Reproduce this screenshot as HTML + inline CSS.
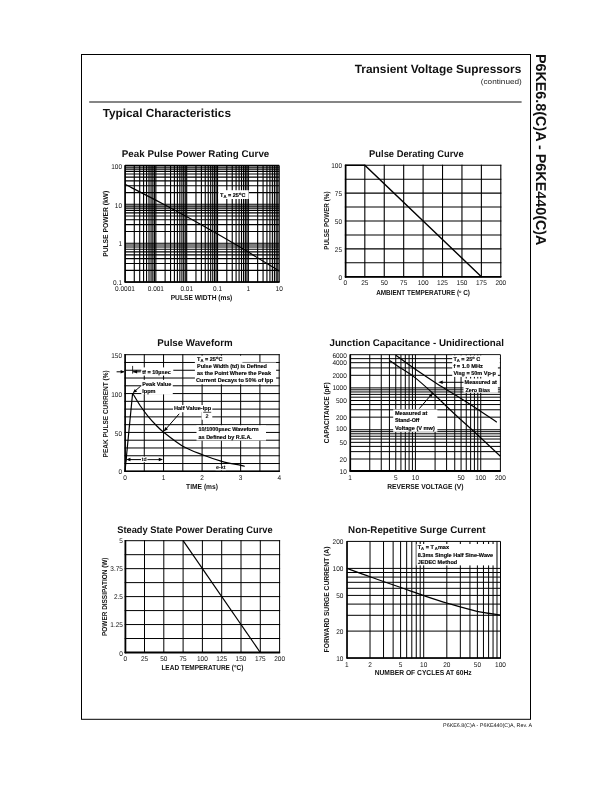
<!DOCTYPE html>
<html lang="en">
<head>
<meta charset="utf-8">
<title>P6KE6.8(C)A - P6KE440(C)A Typical Characteristics</title>
<style>
html,body{margin:0;padding:0;background:#fff;}
body{width:612px;height:792px;overflow:hidden;position:relative;font-family:'Liberation Sans', sans-serif;}
svg{position:absolute;left:0;top:0;display:block;font-family:'Liberation Sans', sans-serif;}
svg text{white-space:pre;}
</style>
</head>
<body>
<svg width="612" height="792" viewBox="0 0 612 792" shape-rendering="auto" text-rendering="geometricPrecision">
<g id="page-frame">
<rect x="81.5" y="54.5" width="449" height="664.8" fill="none" stroke="#000" stroke-width="1"/>
<text x="521.30" y="72.80" font-size="11.87" font-weight="bold" text-anchor="end" fill="#111" >Transient Voltage Supressors</text>
<text x="521.80" y="84.20" font-size="7.4" font-weight="normal" text-anchor="end" fill="#222" textLength="41.00" lengthAdjust="spacingAndGlyphs" >(continued)</text>
<line x1="89.20" y1="102.10" x2="521.60" y2="102.10" stroke="#5c5c5c" stroke-width="1.5" />
<text x="102.70" y="116.90" font-size="11.8" font-weight="bold" text-anchor="start" fill="#111" >Typical Characteristics</text>
<text transform="translate(536.4,53.9) rotate(90)" font-size="14.35" font-weight="bold" fill="#111">P6KE6.8(C)A - P6KE440(C)A</text>
<text x="532.00" y="727.20" font-size="5.38" font-weight="normal" text-anchor="end" fill="#111" >P6KE6.8(C)A - P6KE440(C)A, Rev. A</text>
</g>
<g id="peak-pulse-power-rating-curve">
<text x="121.80" y="157.10" font-size="9.78" font-weight="bold" text-anchor="start" fill="#111" textLength="147.50" lengthAdjust="spacingAndGlyphs" >Peak Pulse Power Rating Curve</text>
<line x1="125.00" y1="165.40" x2="125.00" y2="282.10" stroke="#000" stroke-width="1.12" />
<line x1="134.28" y1="165.40" x2="134.28" y2="282.10" stroke="#000" stroke-width="1.12" />
<line x1="139.71" y1="165.40" x2="139.71" y2="282.10" stroke="#000" stroke-width="1.12" />
<line x1="143.57" y1="165.40" x2="143.57" y2="282.10" stroke="#000" stroke-width="1.12" />
<line x1="146.56" y1="165.40" x2="146.56" y2="282.10" stroke="#000" stroke-width="1.12" />
<line x1="149.00" y1="165.40" x2="149.00" y2="282.10" stroke="#000" stroke-width="1.12" />
<line x1="151.06" y1="165.40" x2="151.06" y2="282.10" stroke="#000" stroke-width="1.12" />
<line x1="152.85" y1="165.40" x2="152.85" y2="282.10" stroke="#000" stroke-width="1.12" />
<line x1="154.43" y1="165.40" x2="154.43" y2="282.10" stroke="#000" stroke-width="1.12" />
<line x1="155.84" y1="165.40" x2="155.84" y2="282.10" stroke="#000" stroke-width="1.12" />
<line x1="165.12" y1="165.40" x2="165.12" y2="282.10" stroke="#000" stroke-width="1.12" />
<line x1="170.55" y1="165.40" x2="170.55" y2="282.10" stroke="#000" stroke-width="1.12" />
<line x1="174.41" y1="165.40" x2="174.41" y2="282.10" stroke="#000" stroke-width="1.12" />
<line x1="177.40" y1="165.40" x2="177.40" y2="282.10" stroke="#000" stroke-width="1.12" />
<line x1="179.84" y1="165.40" x2="179.84" y2="282.10" stroke="#000" stroke-width="1.12" />
<line x1="181.90" y1="165.40" x2="181.90" y2="282.10" stroke="#000" stroke-width="1.12" />
<line x1="183.69" y1="165.40" x2="183.69" y2="282.10" stroke="#000" stroke-width="1.12" />
<line x1="185.27" y1="165.40" x2="185.27" y2="282.10" stroke="#000" stroke-width="1.12" />
<line x1="186.68" y1="165.40" x2="186.68" y2="282.10" stroke="#000" stroke-width="1.12" />
<line x1="195.96" y1="165.40" x2="195.96" y2="282.10" stroke="#000" stroke-width="1.12" />
<line x1="201.39" y1="165.40" x2="201.39" y2="282.10" stroke="#000" stroke-width="1.12" />
<line x1="205.25" y1="165.40" x2="205.25" y2="282.10" stroke="#000" stroke-width="1.12" />
<line x1="208.24" y1="165.40" x2="208.24" y2="282.10" stroke="#000" stroke-width="1.12" />
<line x1="210.68" y1="165.40" x2="210.68" y2="282.10" stroke="#000" stroke-width="1.12" />
<line x1="212.74" y1="165.40" x2="212.74" y2="282.10" stroke="#000" stroke-width="1.12" />
<line x1="214.53" y1="165.40" x2="214.53" y2="282.10" stroke="#000" stroke-width="1.12" />
<line x1="216.11" y1="165.40" x2="216.11" y2="282.10" stroke="#000" stroke-width="1.12" />
<line x1="217.52" y1="165.40" x2="217.52" y2="282.10" stroke="#000" stroke-width="1.12" />
<line x1="226.80" y1="165.40" x2="226.80" y2="282.10" stroke="#000" stroke-width="1.12" />
<line x1="232.23" y1="165.40" x2="232.23" y2="282.10" stroke="#000" stroke-width="1.12" />
<line x1="236.09" y1="165.40" x2="236.09" y2="282.10" stroke="#000" stroke-width="1.12" />
<line x1="239.08" y1="165.40" x2="239.08" y2="282.10" stroke="#000" stroke-width="1.12" />
<line x1="241.52" y1="165.40" x2="241.52" y2="282.10" stroke="#000" stroke-width="1.12" />
<line x1="243.58" y1="165.40" x2="243.58" y2="282.10" stroke="#000" stroke-width="1.12" />
<line x1="245.37" y1="165.40" x2="245.37" y2="282.10" stroke="#000" stroke-width="1.12" />
<line x1="246.95" y1="165.40" x2="246.95" y2="282.10" stroke="#000" stroke-width="1.12" />
<line x1="248.36" y1="165.40" x2="248.36" y2="282.10" stroke="#000" stroke-width="1.12" />
<line x1="257.64" y1="165.40" x2="257.64" y2="282.10" stroke="#000" stroke-width="1.12" />
<line x1="263.07" y1="165.40" x2="263.07" y2="282.10" stroke="#000" stroke-width="1.12" />
<line x1="266.93" y1="165.40" x2="266.93" y2="282.10" stroke="#000" stroke-width="1.12" />
<line x1="269.92" y1="165.40" x2="269.92" y2="282.10" stroke="#000" stroke-width="1.12" />
<line x1="272.36" y1="165.40" x2="272.36" y2="282.10" stroke="#000" stroke-width="1.12" />
<line x1="274.42" y1="165.40" x2="274.42" y2="282.10" stroke="#000" stroke-width="1.12" />
<line x1="276.21" y1="165.40" x2="276.21" y2="282.10" stroke="#000" stroke-width="1.12" />
<line x1="277.79" y1="165.40" x2="277.79" y2="282.10" stroke="#000" stroke-width="1.12" />
<line x1="279.20" y1="165.40" x2="279.20" y2="282.10" stroke="#000" stroke-width="1.12" />
<line x1="125.00" y1="282.10" x2="279.20" y2="282.10" stroke="#000" stroke-width="1.12" />
<line x1="125.00" y1="270.39" x2="279.20" y2="270.39" stroke="#000" stroke-width="1.12" />
<line x1="125.00" y1="263.54" x2="279.20" y2="263.54" stroke="#000" stroke-width="1.12" />
<line x1="125.00" y1="258.68" x2="279.20" y2="258.68" stroke="#000" stroke-width="1.12" />
<line x1="125.00" y1="254.91" x2="279.20" y2="254.91" stroke="#000" stroke-width="1.12" />
<line x1="125.00" y1="251.83" x2="279.20" y2="251.83" stroke="#000" stroke-width="1.12" />
<line x1="125.00" y1="249.23" x2="279.20" y2="249.23" stroke="#000" stroke-width="1.12" />
<line x1="125.00" y1="246.97" x2="279.20" y2="246.97" stroke="#000" stroke-width="1.12" />
<line x1="125.00" y1="244.98" x2="279.20" y2="244.98" stroke="#000" stroke-width="1.12" />
<line x1="125.00" y1="243.20" x2="279.20" y2="243.20" stroke="#000" stroke-width="1.12" />
<line x1="125.00" y1="231.49" x2="279.20" y2="231.49" stroke="#000" stroke-width="1.12" />
<line x1="125.00" y1="224.64" x2="279.20" y2="224.64" stroke="#000" stroke-width="1.12" />
<line x1="125.00" y1="219.78" x2="279.20" y2="219.78" stroke="#000" stroke-width="1.12" />
<line x1="125.00" y1="216.01" x2="279.20" y2="216.01" stroke="#000" stroke-width="1.12" />
<line x1="125.00" y1="212.93" x2="279.20" y2="212.93" stroke="#000" stroke-width="1.12" />
<line x1="125.00" y1="210.33" x2="279.20" y2="210.33" stroke="#000" stroke-width="1.12" />
<line x1="125.00" y1="208.07" x2="279.20" y2="208.07" stroke="#000" stroke-width="1.12" />
<line x1="125.00" y1="206.08" x2="279.20" y2="206.08" stroke="#000" stroke-width="1.12" />
<line x1="125.00" y1="204.30" x2="279.20" y2="204.30" stroke="#000" stroke-width="1.12" />
<line x1="125.00" y1="192.59" x2="279.20" y2="192.59" stroke="#000" stroke-width="1.12" />
<line x1="125.00" y1="185.74" x2="279.20" y2="185.74" stroke="#000" stroke-width="1.12" />
<line x1="125.00" y1="180.88" x2="279.20" y2="180.88" stroke="#000" stroke-width="1.12" />
<line x1="125.00" y1="177.11" x2="279.20" y2="177.11" stroke="#000" stroke-width="1.12" />
<line x1="125.00" y1="174.03" x2="279.20" y2="174.03" stroke="#000" stroke-width="1.12" />
<line x1="125.00" y1="171.43" x2="279.20" y2="171.43" stroke="#000" stroke-width="1.12" />
<line x1="125.00" y1="169.17" x2="279.20" y2="169.17" stroke="#000" stroke-width="1.12" />
<line x1="125.00" y1="167.18" x2="279.20" y2="167.18" stroke="#000" stroke-width="1.12" />
<line x1="125.00" y1="165.40" x2="279.20" y2="165.40" stroke="#000" stroke-width="1.12" />
<line x1="125.20" y1="164.90" x2="125.20" y2="282.60" stroke="#000" stroke-width="1.4" />
<line x1="124.50" y1="282.00" x2="279.70" y2="282.00" stroke="#000" stroke-width="1.4" />
<rect x="218.40" y="190.20" width="30.30" height="8.80" fill="#fff" />
<text x="220.00" y="196.80" font-size="5.55" font-weight="bold" text-anchor="start" fill="#000" stroke="#000" stroke-width="0.14">T<tspan font-size="4.2" dy="1.2">A</tspan><tspan dy="-1.2"> = 25</tspan><tspan font-size="4" dy="-1.8">o</tspan><tspan dy="1.8">C</tspan></text>
<path d="M125.00,184.30 C131.35,187.58 150.60,197.38 163.10,204.00 C175.60,210.62 187.33,216.90 200.00,224.00 C212.67,231.10 225.88,238.75 239.10,246.60 C252.32,254.45 272.60,267.03 279.30,271.12" fill="none" stroke="#000" stroke-width="1.2"/>
<text transform="translate(122.00,285.35) scale(0.94,1)" font-size="6.9" text-anchor="end" fill="#111">0.1</text>
<text transform="translate(122.00,246.45) scale(0.94,1)" font-size="6.9" text-anchor="end" fill="#111">1</text>
<text transform="translate(122.00,207.55) scale(0.94,1)" font-size="6.9" text-anchor="end" fill="#111">10</text>
<text transform="translate(122.00,168.65) scale(0.94,1)" font-size="6.9" text-anchor="end" fill="#111">100</text>
<text transform="translate(125.00,290.95) scale(0.94,1)" font-size="6.9" text-anchor="middle" fill="#111">0.0001</text>
<text transform="translate(155.84,290.95) scale(0.94,1)" font-size="6.9" text-anchor="middle" fill="#111">0.001</text>
<text transform="translate(186.68,290.95) scale(0.94,1)" font-size="6.9" text-anchor="middle" fill="#111">0.01</text>
<text transform="translate(217.52,290.95) scale(0.94,1)" font-size="6.9" text-anchor="middle" fill="#111">0.1</text>
<text transform="translate(248.36,290.95) scale(0.94,1)" font-size="6.9" text-anchor="middle" fill="#111">1</text>
<text transform="translate(279.20,290.95) scale(0.94,1)" font-size="6.9" text-anchor="middle" fill="#111">10</text>
<text x="170.70" y="300.40" font-size="7.2" font-weight="bold" text-anchor="start" fill="#111" textLength="61.60" lengthAdjust="spacingAndGlyphs" >PULSE WIDTH (ms)</text>
<text transform="translate(107.70,256.80) rotate(-90)" font-size="7.2" font-weight="bold" fill="#111" textLength="66.00" lengthAdjust="spacingAndGlyphs">PULSE POWER (kW)</text>
</g>
<g id="pulse-derating-curve">
<text x="369.10" y="157.10" font-size="9.78" font-weight="bold" text-anchor="start" fill="#111" textLength="94.60" lengthAdjust="spacingAndGlyphs" >Pulse Derating Curve</text>
<line x1="345.40" y1="164.75" x2="345.40" y2="277.25" stroke="#000" stroke-width="1.1" />
<line x1="364.82" y1="164.75" x2="364.82" y2="277.25" stroke="#000" stroke-width="1.1" />
<line x1="384.25" y1="164.75" x2="384.25" y2="277.25" stroke="#000" stroke-width="1.1" />
<line x1="403.68" y1="164.75" x2="403.68" y2="277.25" stroke="#000" stroke-width="1.1" />
<line x1="423.10" y1="164.75" x2="423.10" y2="277.25" stroke="#000" stroke-width="1.1" />
<line x1="442.52" y1="164.75" x2="442.52" y2="277.25" stroke="#000" stroke-width="1.1" />
<line x1="461.95" y1="164.75" x2="461.95" y2="277.25" stroke="#000" stroke-width="1.1" />
<line x1="481.38" y1="164.75" x2="481.38" y2="277.25" stroke="#000" stroke-width="1.1" />
<line x1="500.80" y1="164.75" x2="500.80" y2="277.25" stroke="#000" stroke-width="1.1" />
<line x1="344.85" y1="165.30" x2="501.35" y2="165.30" stroke="#000" stroke-width="1.1" />
<line x1="344.85" y1="179.23" x2="501.35" y2="179.23" stroke="#000" stroke-width="1.1" />
<line x1="344.85" y1="193.15" x2="501.35" y2="193.15" stroke="#000" stroke-width="1.1" />
<line x1="344.85" y1="207.07" x2="501.35" y2="207.07" stroke="#000" stroke-width="1.1" />
<line x1="344.85" y1="221.00" x2="501.35" y2="221.00" stroke="#000" stroke-width="1.1" />
<line x1="344.85" y1="234.93" x2="501.35" y2="234.93" stroke="#000" stroke-width="1.1" />
<line x1="344.85" y1="248.85" x2="501.35" y2="248.85" stroke="#000" stroke-width="1.1" />
<line x1="344.85" y1="262.77" x2="501.35" y2="262.77" stroke="#000" stroke-width="1.1" />
<line x1="344.85" y1="276.70" x2="501.35" y2="276.70" stroke="#000" stroke-width="1.1" />
<line x1="345.70" y1="164.80" x2="345.70" y2="277.60" stroke="#000" stroke-width="1.6" />
<line x1="344.90" y1="276.80" x2="501.30" y2="276.80" stroke="#000" stroke-width="1.8" />
<polyline points="345.40,165.30 364.82,165.30 481.38,276.70" fill="none" stroke="#000" stroke-width="1.4"/>
<text transform="translate(342.00,279.75) scale(0.94,1)" font-size="6.9" text-anchor="end" fill="#111">0</text>
<text transform="translate(342.00,251.90) scale(0.94,1)" font-size="6.9" text-anchor="end" fill="#111">25</text>
<text transform="translate(342.00,224.05) scale(0.94,1)" font-size="6.9" text-anchor="end" fill="#111">50</text>
<text transform="translate(342.00,196.20) scale(0.94,1)" font-size="6.9" text-anchor="end" fill="#111">75</text>
<text transform="translate(342.00,168.35) scale(0.94,1)" font-size="6.9" text-anchor="end" fill="#111">100</text>
<text transform="translate(345.40,285.15) scale(0.94,1)" font-size="6.9" text-anchor="middle" fill="#111">0</text>
<text transform="translate(364.82,285.15) scale(0.94,1)" font-size="6.9" text-anchor="middle" fill="#111">25</text>
<text transform="translate(384.25,285.15) scale(0.94,1)" font-size="6.9" text-anchor="middle" fill="#111">50</text>
<text transform="translate(403.68,285.15) scale(0.94,1)" font-size="6.9" text-anchor="middle" fill="#111">75</text>
<text transform="translate(423.10,285.15) scale(0.94,1)" font-size="6.9" text-anchor="middle" fill="#111">100</text>
<text transform="translate(442.52,285.15) scale(0.94,1)" font-size="6.9" text-anchor="middle" fill="#111">125</text>
<text transform="translate(461.95,285.15) scale(0.94,1)" font-size="6.9" text-anchor="middle" fill="#111">150</text>
<text transform="translate(481.38,285.15) scale(0.94,1)" font-size="6.9" text-anchor="middle" fill="#111">175</text>
<text transform="translate(500.80,285.15) scale(0.94,1)" font-size="6.9" text-anchor="middle" fill="#111">200</text>
<text x="376.20" y="294.60" font-size="7.2" font-weight="bold" text-anchor="start" fill="#111" textLength="93.80" lengthAdjust="spacingAndGlyphs" >AMBIENT TEMPERATURE (<tspan font-size="4.4" dy="-2">o</tspan><tspan dy="2"> C)</tspan></text>
<text transform="translate(328.60,249.80) rotate(-90)" font-size="7.2" font-weight="bold" fill="#111" textLength="58.30" lengthAdjust="spacingAndGlyphs">PULSE POWER (%)</text>
</g>
<g id="pulse-waveform">
<text x="157.20" y="345.90" font-size="9.78" font-weight="bold" text-anchor="start" fill="#111" textLength="75.40" lengthAdjust="spacingAndGlyphs" >Pulse Waveform</text>
<line x1="125.00" y1="354.20" x2="125.00" y2="471.80" stroke="#000" stroke-width="1.0" />
<line x1="144.28" y1="354.20" x2="144.28" y2="471.80" stroke="#000" stroke-width="1.0" />
<line x1="163.55" y1="354.20" x2="163.55" y2="471.80" stroke="#000" stroke-width="1.0" />
<line x1="182.82" y1="354.20" x2="182.82" y2="471.80" stroke="#000" stroke-width="1.0" />
<line x1="202.10" y1="354.20" x2="202.10" y2="471.80" stroke="#000" stroke-width="1.0" />
<line x1="221.38" y1="354.20" x2="221.38" y2="471.80" stroke="#000" stroke-width="1.0" />
<line x1="240.65" y1="354.20" x2="240.65" y2="471.80" stroke="#000" stroke-width="1.0" />
<line x1="259.92" y1="354.20" x2="259.92" y2="471.80" stroke="#000" stroke-width="1.0" />
<line x1="279.20" y1="354.20" x2="279.20" y2="471.80" stroke="#000" stroke-width="1.0" />
<line x1="124.50" y1="354.70" x2="279.70" y2="354.70" stroke="#000" stroke-width="1.0" />
<line x1="124.50" y1="362.47" x2="279.70" y2="362.47" stroke="#000" stroke-width="1.0" />
<line x1="124.50" y1="370.25" x2="279.70" y2="370.25" stroke="#000" stroke-width="1.0" />
<line x1="124.50" y1="378.02" x2="279.70" y2="378.02" stroke="#000" stroke-width="1.0" />
<line x1="124.50" y1="385.79" x2="279.70" y2="385.79" stroke="#000" stroke-width="1.0" />
<line x1="124.50" y1="393.57" x2="279.70" y2="393.57" stroke="#000" stroke-width="1.0" />
<line x1="124.50" y1="401.34" x2="279.70" y2="401.34" stroke="#000" stroke-width="1.0" />
<line x1="124.50" y1="409.11" x2="279.70" y2="409.11" stroke="#000" stroke-width="1.0" />
<line x1="124.50" y1="416.89" x2="279.70" y2="416.89" stroke="#000" stroke-width="1.0" />
<line x1="124.50" y1="424.66" x2="279.70" y2="424.66" stroke="#000" stroke-width="1.0" />
<line x1="124.50" y1="432.43" x2="279.70" y2="432.43" stroke="#000" stroke-width="1.0" />
<line x1="124.50" y1="440.21" x2="279.70" y2="440.21" stroke="#000" stroke-width="1.0" />
<line x1="124.50" y1="447.98" x2="279.70" y2="447.98" stroke="#000" stroke-width="1.0" />
<line x1="124.50" y1="455.75" x2="279.70" y2="455.75" stroke="#000" stroke-width="1.0" />
<line x1="124.50" y1="463.53" x2="279.70" y2="463.53" stroke="#000" stroke-width="1.0" />
<line x1="124.50" y1="471.30" x2="279.70" y2="471.30" stroke="#000" stroke-width="1.0" />
<line x1="125.20" y1="354.20" x2="125.20" y2="471.80" stroke="#000" stroke-width="1.4" />
<line x1="124.50" y1="471.20" x2="279.70" y2="471.20" stroke="#000" stroke-width="1.4" />
<rect x="141.30" y="367.40" width="32.00" height="8.20" fill="#fff" />
<rect x="141.30" y="379.80" width="31.50" height="14.60" fill="#fff" />
<rect x="194.90" y="355.70" width="47.50" height="7.20" fill="#fff" />
<rect x="194.90" y="362.50" width="81.20" height="21.80" fill="#fff" />
<rect x="173.00" y="405.00" width="39.30" height="7.20" fill="#fff" />
<rect x="201.50" y="412.00" width="10.80" height="7.80" fill="#fff" />
<rect x="196.50" y="425.30" width="69.50" height="15.20" fill="#fff" />
<rect x="141.30" y="456.60" width="5.80" height="5.60" fill="#fff" />
<rect x="215.60" y="465.20" width="10.40" height="5.00" fill="#fff" />
<path d="M125.00,471.30 L132.6,393.2 " fill="none" stroke="#000" stroke-width="1.2" stroke-linejoin="miter"/>
<path d="M132.60,393.20 C133.90,395.33 137.82,402.15 140.40,406.00 C142.98,409.85 145.52,413.13 148.10,416.30 C150.68,419.47 153.32,422.35 155.90,425.00 C158.48,427.65 159.12,428.67 163.60,432.20 C168.08,435.73 176.33,442.45 182.80,446.20 C189.27,449.95 195.90,452.18 202.40,454.70 C208.90,457.22 215.38,459.52 221.80,461.30 C228.22,463.08 237.08,464.55 240.90,465.40 C244.72,466.25 244.07,466.23 244.70,466.40" fill="none" stroke="#000" stroke-width="1.2"/>
<line x1="116.60" y1="371.80" x2="123.80" y2="371.80" stroke="#000" stroke-width="1.0" />
<polygon points="124.60,371.80 120.60,373.56 120.60,370.05" fill="#000"/>
<line x1="132.60" y1="365.90" x2="132.60" y2="373.60" stroke="#000" stroke-width="0.8" />
<line x1="133.00" y1="371.80" x2="140.80" y2="371.80" stroke="#000" stroke-width="1.0" />
<polygon points="132.90,371.80 137.15,370.05 137.15,373.56" fill="#000"/>
<text x="142.20" y="373.80" font-size="5.55" font-weight="bold" text-anchor="start" fill="#000" stroke="#000" stroke-width="0.14">tf = 10µsec</text>
<text x="142.30" y="385.70" font-size="5.55" font-weight="bold" text-anchor="start" fill="#000" stroke="#000" stroke-width="0.14">Peak Value</text>
<text x="142.30" y="392.70" font-size="5.55" font-weight="bold" text-anchor="start" fill="#000" stroke="#000" stroke-width="0.14">Ippm</text>
<line x1="140.60" y1="386.20" x2="133.40" y2="392.40" stroke="#000" stroke-width="1.0" />
<polygon points="132.80,393.00 134.85,388.88 137.16,391.53" fill="#000"/>
<text x="197.00" y="360.70" font-size="5.55" font-weight="bold" text-anchor="start" fill="#000" stroke="#000" stroke-width="0.14">T<tspan font-size="4.2" dy="1.2">A</tspan><tspan dy="-1.2"> = 25</tspan><tspan font-size="4" dy="-1.8">o</tspan><tspan dy="1.8">C</tspan></text>
<text x="197.00" y="368.00" font-size="5.55" font-weight="bold" text-anchor="start" fill="#000" textLength="70.00" lengthAdjust="spacingAndGlyphs" stroke="#000" stroke-width="0.14">Pulse Width (td) is Defined</text>
<text x="197.00" y="374.60" font-size="5.55" font-weight="bold" text-anchor="start" fill="#000" textLength="74.00" lengthAdjust="spacingAndGlyphs" stroke="#000" stroke-width="0.14">as the Point Where the Peak</text>
<text x="196.10" y="382.30" font-size="5.55" font-weight="bold" text-anchor="start" fill="#000" textLength="77.00" lengthAdjust="spacingAndGlyphs" stroke="#000" stroke-width="0.14">Current Decays to 50% of Ipp</text>
<text x="173.90" y="410.40" font-size="5.55" font-weight="bold" text-anchor="start" fill="#000" textLength="37.20" lengthAdjust="spacingAndGlyphs" stroke="#000" stroke-width="0.14">Half Value-Ipp</text>
<line x1="203.20" y1="412.30" x2="211.20" y2="412.30" stroke="#000" stroke-width="0.7" />
<text x="207.10" y="418.40" font-size="5.55" font-weight="bold" text-anchor="middle" fill="#000" >2</text>
<line x1="179.20" y1="413.80" x2="164.40" y2="430.70" stroke="#000" stroke-width="1.0" />
<polygon points="163.70,431.50 165.34,426.96 167.98,429.27" fill="#000"/>
<text x="198.50" y="430.80" font-size="5.55" font-weight="bold" text-anchor="start" fill="#000" textLength="60.20" lengthAdjust="spacingAndGlyphs" stroke="#000" stroke-width="0.14">10/1000µsec Waveform</text>
<text x="198.50" y="438.90" font-size="5.55" font-weight="bold" text-anchor="start" fill="#000" textLength="53.40" lengthAdjust="spacingAndGlyphs" stroke="#000" stroke-width="0.14">as Defined by R.E.A.</text>
<line x1="126.10" y1="455.20" x2="126.10" y2="461.40" stroke="#000" stroke-width="0.8" />
<line x1="128.00" y1="459.60" x2="141.00" y2="459.60" stroke="#000" stroke-width="1.0" />
<line x1="147.40" y1="459.60" x2="160.00" y2="459.60" stroke="#000" stroke-width="0.9" />
<polygon points="126.20,459.60 130.45,457.85 130.45,461.36" fill="#000"/>
<polygon points="163.00,459.60 158.75,461.36 158.75,457.85" fill="#000"/>
<text x="144.20" y="461.30" font-size="5.2" font-weight="bold" text-anchor="middle" fill="#000" >td</text>
<text x="215.90" y="469.30" font-size="5.5" font-weight="bold" text-anchor="start" fill="#000" textLength="9.60" lengthAdjust="spacingAndGlyphs" >e-kt</text>
<text transform="translate(122.00,474.45) scale(0.94,1)" font-size="6.9" text-anchor="end" fill="#111">0</text>
<text transform="translate(122.00,435.58) scale(0.94,1)" font-size="6.9" text-anchor="end" fill="#111">50</text>
<text transform="translate(122.00,396.72) scale(0.94,1)" font-size="6.9" text-anchor="end" fill="#111">100</text>
<text transform="translate(122.00,357.85) scale(0.94,1)" font-size="6.9" text-anchor="end" fill="#111">150</text>
<text transform="translate(125.00,480.05) scale(0.94,1)" font-size="6.9" text-anchor="middle" fill="#111">0</text>
<text transform="translate(163.55,480.05) scale(0.94,1)" font-size="6.9" text-anchor="middle" fill="#111">1</text>
<text transform="translate(202.10,480.05) scale(0.94,1)" font-size="6.9" text-anchor="middle" fill="#111">2</text>
<text transform="translate(240.65,480.05) scale(0.94,1)" font-size="6.9" text-anchor="middle" fill="#111">3</text>
<text transform="translate(279.20,480.05) scale(0.94,1)" font-size="6.9" text-anchor="middle" fill="#111">4</text>
<text x="186.10" y="488.90" font-size="7.2" font-weight="bold" text-anchor="start" fill="#111" textLength="31.90" lengthAdjust="spacingAndGlyphs" >TIME (ms)</text>
<text transform="translate(107.70,457.40) rotate(-90)" font-size="7.2" font-weight="bold" fill="#111" textLength="87.00" lengthAdjust="spacingAndGlyphs">PEAK PULSE CURRENT (%)</text>
</g>
<g id="junction-capacitance">
<text x="329.50" y="346.20" font-size="9.78" font-weight="bold" text-anchor="start" fill="#111" textLength="174.40" lengthAdjust="spacingAndGlyphs" >Junction Capacitance - Unidirectional</text>
<line x1="350.10" y1="354.70" x2="350.10" y2="471.60" stroke="#000" stroke-width="1.0" />
<line x1="369.76" y1="354.70" x2="369.76" y2="471.60" stroke="#000" stroke-width="1.0" />
<line x1="381.26" y1="354.70" x2="381.26" y2="471.60" stroke="#000" stroke-width="1.0" />
<line x1="389.43" y1="354.70" x2="389.43" y2="471.60" stroke="#000" stroke-width="1.0" />
<line x1="395.76" y1="354.70" x2="395.76" y2="471.60" stroke="#000" stroke-width="1.0" />
<line x1="400.93" y1="354.70" x2="400.93" y2="471.60" stroke="#000" stroke-width="1.0" />
<line x1="405.30" y1="354.70" x2="405.30" y2="471.60" stroke="#000" stroke-width="1.0" />
<line x1="409.09" y1="354.70" x2="409.09" y2="471.60" stroke="#000" stroke-width="1.0" />
<line x1="412.43" y1="354.70" x2="412.43" y2="471.60" stroke="#000" stroke-width="1.0" />
<line x1="415.42" y1="354.70" x2="415.42" y2="471.60" stroke="#000" stroke-width="1.0" />
<line x1="435.08" y1="354.70" x2="435.08" y2="471.60" stroke="#000" stroke-width="1.0" />
<line x1="446.58" y1="354.70" x2="446.58" y2="471.60" stroke="#000" stroke-width="1.0" />
<line x1="454.74" y1="354.70" x2="454.74" y2="471.60" stroke="#000" stroke-width="1.0" />
<line x1="461.07" y1="354.70" x2="461.07" y2="471.60" stroke="#000" stroke-width="1.0" />
<line x1="466.25" y1="354.70" x2="466.25" y2="471.60" stroke="#000" stroke-width="1.0" />
<line x1="470.62" y1="354.70" x2="470.62" y2="471.60" stroke="#000" stroke-width="1.0" />
<line x1="474.41" y1="354.70" x2="474.41" y2="471.60" stroke="#000" stroke-width="1.0" />
<line x1="477.75" y1="354.70" x2="477.75" y2="471.60" stroke="#000" stroke-width="1.0" />
<line x1="480.74" y1="354.70" x2="480.74" y2="471.60" stroke="#000" stroke-width="1.0" />
<line x1="500.40" y1="354.70" x2="500.40" y2="471.60" stroke="#000" stroke-width="1.0" />
<line x1="350.10" y1="471.60" x2="500.40" y2="471.60" stroke="#000" stroke-width="1.0" />
<line x1="350.10" y1="459.00" x2="500.40" y2="459.00" stroke="#000" stroke-width="1.0" />
<line x1="350.10" y1="451.63" x2="500.40" y2="451.63" stroke="#000" stroke-width="1.0" />
<line x1="350.10" y1="446.40" x2="500.40" y2="446.40" stroke="#000" stroke-width="1.0" />
<line x1="350.10" y1="442.35" x2="500.40" y2="442.35" stroke="#000" stroke-width="1.0" />
<line x1="350.10" y1="439.03" x2="500.40" y2="439.03" stroke="#000" stroke-width="1.0" />
<line x1="350.10" y1="436.23" x2="500.40" y2="436.23" stroke="#000" stroke-width="1.0" />
<line x1="350.10" y1="433.81" x2="500.40" y2="433.81" stroke="#000" stroke-width="1.0" />
<line x1="350.10" y1="431.66" x2="500.40" y2="431.66" stroke="#000" stroke-width="1.0" />
<line x1="350.10" y1="429.75" x2="500.40" y2="429.75" stroke="#000" stroke-width="1.0" />
<line x1="350.10" y1="417.15" x2="500.40" y2="417.15" stroke="#000" stroke-width="1.0" />
<line x1="350.10" y1="409.78" x2="500.40" y2="409.78" stroke="#000" stroke-width="1.0" />
<line x1="350.10" y1="404.55" x2="500.40" y2="404.55" stroke="#000" stroke-width="1.0" />
<line x1="350.10" y1="400.50" x2="500.40" y2="400.50" stroke="#000" stroke-width="1.0" />
<line x1="350.10" y1="397.18" x2="500.40" y2="397.18" stroke="#000" stroke-width="1.0" />
<line x1="350.10" y1="394.38" x2="500.40" y2="394.38" stroke="#000" stroke-width="1.0" />
<line x1="350.10" y1="391.96" x2="500.40" y2="391.96" stroke="#000" stroke-width="1.0" />
<line x1="350.10" y1="389.81" x2="500.40" y2="389.81" stroke="#000" stroke-width="1.0" />
<line x1="350.10" y1="387.90" x2="500.40" y2="387.90" stroke="#000" stroke-width="1.0" />
<line x1="350.10" y1="375.30" x2="500.40" y2="375.30" stroke="#000" stroke-width="1.0" />
<line x1="350.10" y1="367.93" x2="500.40" y2="367.93" stroke="#000" stroke-width="1.0" />
<line x1="350.10" y1="362.70" x2="500.40" y2="362.70" stroke="#000" stroke-width="1.0" />
<line x1="350.10" y1="358.65" x2="500.40" y2="358.65" stroke="#000" stroke-width="1.0" />
<line x1="350.10" y1="354.70" x2="500.40" y2="354.70" stroke="#000" stroke-width="1.0" />
<rect x="349.10" y="470.85" width="152.30" height="2.00" fill="#fff" />
<line x1="350.35" y1="354.20" x2="350.35" y2="471.90" stroke="#000" stroke-width="1.5" />
<line x1="349.60" y1="471.05" x2="500.90" y2="471.05" stroke="#000" stroke-width="1.9" />
<rect x="452.20" y="355.40" width="47.60" height="10.20" fill="#fff" />
<rect x="452.20" y="365.00" width="45.70" height="11.90" fill="#fff" />
<rect x="463.50" y="378.50" width="34.40" height="14.20" fill="#fff" />
<rect x="393.20" y="409.50" width="44.20" height="22.30" fill="#fff" />
<path d="M395.90,355.30 C399.08,357.60 408.08,364.32 415.00,369.10 C421.92,373.88 429.07,378.68 437.40,384.00 C445.73,389.32 455.10,394.63 465.00,401.00 C474.90,407.37 491.50,418.67 496.80,422.20" fill="none" stroke="#000" stroke-width="1.2"/>
<path d="M389.60,360.60 C391.50,361.87 396.77,365.37 401.00,368.20 C405.23,371.03 409.65,373.38 415.00,377.60 C420.35,381.82 426.55,387.48 433.10,393.50 C439.65,399.52 446.87,406.78 454.30,413.70 C461.73,420.62 470.02,427.92 477.70,435.00 C485.38,442.08 496.62,452.67 500.40,456.20" fill="none" stroke="#000" stroke-width="1.2"/>
<text x="453.40" y="361.00" font-size="5.55" font-weight="bold" text-anchor="start" fill="#000" stroke="#000" stroke-width="0.14">T<tspan font-size="4.2" dy="1.2">A</tspan><tspan dy="-1.2"> = 25</tspan><tspan font-size="4" dy="-1.8">o</tspan><tspan dy="1.8"> C</tspan></text>
<text x="453.40" y="367.70" font-size="5.55" font-weight="bold" text-anchor="start" fill="#000" textLength="29.50" lengthAdjust="spacingAndGlyphs" stroke="#000" stroke-width="0.14">f = 1.0 MHz</text>
<text x="453.40" y="374.50" font-size="5.55" font-weight="bold" text-anchor="start" fill="#000" textLength="42.60" lengthAdjust="spacingAndGlyphs" stroke="#000" stroke-width="0.14">Visg = 50m Vp-p</text>
<text x="464.60" y="384.10" font-size="5.55" font-weight="bold" text-anchor="start" fill="#000" textLength="32.30" lengthAdjust="spacingAndGlyphs" stroke="#000" stroke-width="0.14">Measured at</text>
<text x="465.50" y="391.50" font-size="5.55" font-weight="bold" text-anchor="start" fill="#000" textLength="24.40" lengthAdjust="spacingAndGlyphs" stroke="#000" stroke-width="0.14">Zero Bias</text>
<line x1="441.00" y1="382.30" x2="463.60" y2="382.30" stroke="#000" stroke-width="1.0" />
<polygon points="438.20,382.30 442.70,380.55 442.70,384.06" fill="#000"/>
<text x="395.00" y="414.50" font-size="5.55" font-weight="bold" text-anchor="start" fill="#000" textLength="32.30" lengthAdjust="spacingAndGlyphs" stroke="#000" stroke-width="0.14">Measured at</text>
<text x="395.00" y="422.30" font-size="5.55" font-weight="bold" text-anchor="start" fill="#000" textLength="24.40" lengthAdjust="spacingAndGlyphs" stroke="#000" stroke-width="0.14">Stand-Off</text>
<text x="395.00" y="429.80" font-size="5.55" font-weight="bold" text-anchor="start" fill="#000" textLength="39.80" lengthAdjust="spacingAndGlyphs" stroke="#000" stroke-width="0.14">Voltage (V mw)</text>
<line x1="419.30" y1="408.60" x2="432.30" y2="393.50" stroke="#000" stroke-width="1.0" />
<polygon points="433.00,392.60 431.41,397.16 428.74,394.88" fill="#000"/>
<text transform="translate(346.80,357.88) scale(0.94,1)" font-size="6.9" text-anchor="end" fill="#111">6000</text>
<text transform="translate(346.80,364.55) scale(0.94,1)" font-size="6.9" text-anchor="end" fill="#111">4000</text>
<text transform="translate(346.80,377.85) scale(0.94,1)" font-size="6.9" text-anchor="end" fill="#111">2000</text>
<text transform="translate(346.80,389.55) scale(0.94,1)" font-size="6.9" text-anchor="end" fill="#111">1000</text>
<text transform="translate(346.80,403.45) scale(0.94,1)" font-size="6.9" text-anchor="end" fill="#111">500</text>
<text transform="translate(346.80,420.10) scale(0.94,1)" font-size="6.9" text-anchor="end" fill="#111">200</text>
<text transform="translate(346.80,431.40) scale(0.94,1)" font-size="6.9" text-anchor="end" fill="#111">100</text>
<text transform="translate(346.80,445.30) scale(0.94,1)" font-size="6.9" text-anchor="end" fill="#111">50</text>
<text transform="translate(346.80,461.95) scale(0.94,1)" font-size="6.9" text-anchor="end" fill="#111">20</text>
<text transform="translate(346.80,474.35) scale(0.94,1)" font-size="6.9" text-anchor="end" fill="#111">10</text>
<text transform="translate(350.10,480.05) scale(0.94,1)" font-size="6.9" text-anchor="middle" fill="#111">1</text>
<text transform="translate(395.76,480.05) scale(0.94,1)" font-size="6.9" text-anchor="middle" fill="#111">5</text>
<text transform="translate(415.42,480.05) scale(0.94,1)" font-size="6.9" text-anchor="middle" fill="#111">10</text>
<text transform="translate(461.07,480.05) scale(0.94,1)" font-size="6.9" text-anchor="middle" fill="#111">50</text>
<text transform="translate(480.74,480.05) scale(0.94,1)" font-size="6.9" text-anchor="middle" fill="#111">100</text>
<text transform="translate(500.40,480.05) scale(0.94,1)" font-size="6.9" text-anchor="middle" fill="#111">200</text>
<text x="387.20" y="489.40" font-size="7.2" font-weight="bold" text-anchor="start" fill="#111" textLength="76.20" lengthAdjust="spacingAndGlyphs" >REVERSE VOLTAGE (V)</text>
<text transform="translate(328.90,443.20) rotate(-90)" font-size="7.2" font-weight="bold" fill="#111" textLength="61.00" lengthAdjust="spacingAndGlyphs">CAPACITANCE (pF)</text>
</g>
<g id="steady-state-power-derating-curve">
<text x="117.20" y="533.00" font-size="9.78" font-weight="bold" text-anchor="start" fill="#111" textLength="155.50" lengthAdjust="spacingAndGlyphs" >Steady State Power Derating Curve</text>
<line x1="125.20" y1="540.20" x2="125.20" y2="653.00" stroke="#000" stroke-width="1.0" />
<line x1="144.50" y1="540.20" x2="144.50" y2="653.00" stroke="#000" stroke-width="1.0" />
<line x1="163.80" y1="540.20" x2="163.80" y2="653.00" stroke="#000" stroke-width="1.0" />
<line x1="183.10" y1="540.20" x2="183.10" y2="653.00" stroke="#000" stroke-width="1.0" />
<line x1="202.40" y1="540.20" x2="202.40" y2="653.00" stroke="#000" stroke-width="1.0" />
<line x1="221.70" y1="540.20" x2="221.70" y2="653.00" stroke="#000" stroke-width="1.0" />
<line x1="241.00" y1="540.20" x2="241.00" y2="653.00" stroke="#000" stroke-width="1.0" />
<line x1="260.30" y1="540.20" x2="260.30" y2="653.00" stroke="#000" stroke-width="1.0" />
<line x1="279.60" y1="540.20" x2="279.60" y2="653.00" stroke="#000" stroke-width="1.0" />
<line x1="124.70" y1="540.70" x2="280.10" y2="540.70" stroke="#000" stroke-width="1.0" />
<line x1="124.70" y1="554.68" x2="280.10" y2="554.68" stroke="#000" stroke-width="1.0" />
<line x1="124.70" y1="568.65" x2="280.10" y2="568.65" stroke="#000" stroke-width="1.0" />
<line x1="124.70" y1="582.62" x2="280.10" y2="582.62" stroke="#000" stroke-width="1.0" />
<line x1="124.70" y1="596.60" x2="280.10" y2="596.60" stroke="#000" stroke-width="1.0" />
<line x1="124.70" y1="610.58" x2="280.10" y2="610.58" stroke="#000" stroke-width="1.0" />
<line x1="124.70" y1="624.55" x2="280.10" y2="624.55" stroke="#000" stroke-width="1.0" />
<line x1="124.70" y1="638.52" x2="280.10" y2="638.52" stroke="#000" stroke-width="1.0" />
<line x1="124.70" y1="652.50" x2="280.10" y2="652.50" stroke="#000" stroke-width="1.0" />
<line x1="125.50" y1="540.20" x2="125.50" y2="653.30" stroke="#000" stroke-width="1.6" />
<line x1="124.70" y1="652.50" x2="280.10" y2="652.50" stroke="#000" stroke-width="1.8" />
<line x1="183.10" y1="540.70" x2="260.30" y2="652.50" stroke="#000" stroke-width="1.2" />
<text transform="translate(122.90,655.85) scale(0.94,1)" font-size="6.9" text-anchor="end" fill="#111">0</text>
<text transform="translate(122.90,627.30) scale(0.94,1)" font-size="6.9" text-anchor="end" fill="#111">1.25</text>
<text transform="translate(122.90,599.35) scale(0.94,1)" font-size="6.9" text-anchor="end" fill="#111">2.5</text>
<text transform="translate(122.90,571.40) scale(0.94,1)" font-size="6.9" text-anchor="end" fill="#111">3.75</text>
<text transform="translate(122.90,543.45) scale(0.94,1)" font-size="6.9" text-anchor="end" fill="#111">5</text>
<text transform="translate(125.20,661.35) scale(0.94,1)" font-size="6.9" text-anchor="middle" fill="#111">0</text>
<text transform="translate(144.50,661.35) scale(0.94,1)" font-size="6.9" text-anchor="middle" fill="#111">25</text>
<text transform="translate(163.80,661.35) scale(0.94,1)" font-size="6.9" text-anchor="middle" fill="#111">50</text>
<text transform="translate(183.10,661.35) scale(0.94,1)" font-size="6.9" text-anchor="middle" fill="#111">75</text>
<text transform="translate(202.40,661.35) scale(0.94,1)" font-size="6.9" text-anchor="middle" fill="#111">100</text>
<text transform="translate(221.70,661.35) scale(0.94,1)" font-size="6.9" text-anchor="middle" fill="#111">125</text>
<text transform="translate(241.00,661.35) scale(0.94,1)" font-size="6.9" text-anchor="middle" fill="#111">150</text>
<text transform="translate(260.30,661.35) scale(0.94,1)" font-size="6.9" text-anchor="middle" fill="#111">175</text>
<text transform="translate(279.60,661.35) scale(0.94,1)" font-size="6.9" text-anchor="middle" fill="#111">200</text>
<text x="161.40" y="669.50" font-size="7.2" font-weight="bold" text-anchor="start" fill="#111" textLength="82.00" lengthAdjust="spacingAndGlyphs" >LEAD TEMPERATURE (°C)</text>
<text transform="translate(107.10,636.00) rotate(-90)" font-size="7.2" font-weight="bold" fill="#111" textLength="78.50" lengthAdjust="spacingAndGlyphs">POWER DISSIPATION (W)</text>
</g>
<g id="non-repetitive-surge-current">
<text x="348.10" y="533.00" font-size="9.78" font-weight="bold" text-anchor="start" fill="#111" textLength="137.50" lengthAdjust="spacingAndGlyphs" >Non-Repetitive Surge Current</text>
<line x1="346.90" y1="541.40" x2="346.90" y2="658.10" stroke="#000" stroke-width="1.0" />
<line x1="370.02" y1="541.40" x2="370.02" y2="658.10" stroke="#000" stroke-width="1.0" />
<line x1="383.54" y1="541.40" x2="383.54" y2="658.10" stroke="#000" stroke-width="1.0" />
<line x1="393.14" y1="541.40" x2="393.14" y2="658.10" stroke="#000" stroke-width="1.0" />
<line x1="400.58" y1="541.40" x2="400.58" y2="658.10" stroke="#000" stroke-width="1.0" />
<line x1="406.66" y1="541.40" x2="406.66" y2="658.10" stroke="#000" stroke-width="1.0" />
<line x1="411.80" y1="541.40" x2="411.80" y2="658.10" stroke="#000" stroke-width="1.0" />
<line x1="416.26" y1="541.40" x2="416.26" y2="658.10" stroke="#000" stroke-width="1.0" />
<line x1="420.19" y1="541.40" x2="420.19" y2="658.10" stroke="#000" stroke-width="1.0" />
<line x1="423.70" y1="541.40" x2="423.70" y2="658.10" stroke="#000" stroke-width="1.0" />
<line x1="446.82" y1="541.40" x2="446.82" y2="658.10" stroke="#000" stroke-width="1.0" />
<line x1="460.34" y1="541.40" x2="460.34" y2="658.10" stroke="#000" stroke-width="1.0" />
<line x1="469.94" y1="541.40" x2="469.94" y2="658.10" stroke="#000" stroke-width="1.0" />
<line x1="477.38" y1="541.40" x2="477.38" y2="658.10" stroke="#000" stroke-width="1.0" />
<line x1="483.46" y1="541.40" x2="483.46" y2="658.10" stroke="#000" stroke-width="1.0" />
<line x1="488.60" y1="541.40" x2="488.60" y2="658.10" stroke="#000" stroke-width="1.0" />
<line x1="493.06" y1="541.40" x2="493.06" y2="658.10" stroke="#000" stroke-width="1.0" />
<line x1="496.99" y1="541.40" x2="496.99" y2="658.10" stroke="#000" stroke-width="1.0" />
<line x1="500.50" y1="541.40" x2="500.50" y2="658.10" stroke="#000" stroke-width="1.0" />
<line x1="346.90" y1="658.10" x2="500.50" y2="658.10" stroke="#000" stroke-width="1.0" />
<line x1="346.90" y1="631.10" x2="500.50" y2="631.10" stroke="#000" stroke-width="1.0" />
<line x1="346.90" y1="615.30" x2="500.50" y2="615.30" stroke="#000" stroke-width="1.0" />
<line x1="346.90" y1="604.10" x2="500.50" y2="604.10" stroke="#000" stroke-width="1.0" />
<line x1="346.90" y1="595.40" x2="500.50" y2="595.40" stroke="#000" stroke-width="1.0" />
<line x1="346.90" y1="588.30" x2="500.50" y2="588.30" stroke="#000" stroke-width="1.0" />
<line x1="346.90" y1="582.30" x2="500.50" y2="582.30" stroke="#000" stroke-width="1.0" />
<line x1="346.90" y1="577.09" x2="500.50" y2="577.09" stroke="#000" stroke-width="1.0" />
<line x1="346.90" y1="572.51" x2="500.50" y2="572.51" stroke="#000" stroke-width="1.0" />
<line x1="346.90" y1="568.40" x2="500.50" y2="568.40" stroke="#000" stroke-width="1.0" />
<line x1="346.90" y1="541.40" x2="500.50" y2="541.40" stroke="#000" stroke-width="1.0" />
<line x1="347.10" y1="540.90" x2="347.10" y2="658.60" stroke="#000" stroke-width="1.4" />
<line x1="346.40" y1="658.00" x2="501.00" y2="658.00" stroke="#000" stroke-width="1.4" />
<rect x="416.50" y="544.00" width="78.50" height="21.40" fill="#fff" />
<path d="M346.90,568.40 C350.75,569.80 360.91,573.57 370.02,576.80 C379.13,580.03 392.62,584.66 401.57,587.79 C410.51,590.91 415.89,592.94 423.70,595.56 C431.51,598.18 439.73,600.92 448.45,603.52 C457.17,606.11 467.34,609.20 476.02,611.12 C484.69,613.04 496.42,614.39 500.50,615.04" fill="none" stroke="#000" stroke-width="1.2"/>
<text x="417.70" y="549.00" font-size="5.55" font-weight="bold" text-anchor="start" fill="#000" stroke="#000" stroke-width="0.14">T<tspan font-size="4.2" dy="1.3">A</tspan><tspan dy="-1.3"> = T</tspan><tspan font-size="4.2" dy="1.3"> A</tspan><tspan dy="-1.3">max</tspan></text>
<text x="417.70" y="556.50" font-size="5.55" font-weight="bold" text-anchor="start" fill="#000" textLength="75.50" lengthAdjust="spacingAndGlyphs" stroke="#000" stroke-width="0.14">8.3ms Single Half Sine-Wave</text>
<text x="417.70" y="563.70" font-size="5.55" font-weight="bold" text-anchor="start" fill="#000" textLength="39.50" lengthAdjust="spacingAndGlyphs" stroke="#000" stroke-width="0.14">JEDEC Method</text>
<text transform="translate(343.40,544.35) scale(0.94,1)" font-size="6.9" text-anchor="end" fill="#111">200</text>
<text transform="translate(343.40,571.35) scale(0.94,1)" font-size="6.9" text-anchor="end" fill="#111">100</text>
<text transform="translate(343.40,598.35) scale(0.94,1)" font-size="6.9" text-anchor="end" fill="#111">50</text>
<text transform="translate(343.40,634.05) scale(0.94,1)" font-size="6.9" text-anchor="end" fill="#111">20</text>
<text transform="translate(343.40,661.05) scale(0.94,1)" font-size="6.9" text-anchor="end" fill="#111">10</text>
<text transform="translate(346.90,666.95) scale(0.94,1)" font-size="6.9" text-anchor="middle" fill="#111">1</text>
<text transform="translate(370.02,666.95) scale(0.94,1)" font-size="6.9" text-anchor="middle" fill="#111">2</text>
<text transform="translate(400.58,666.95) scale(0.94,1)" font-size="6.9" text-anchor="middle" fill="#111">5</text>
<text transform="translate(423.70,666.95) scale(0.94,1)" font-size="6.9" text-anchor="middle" fill="#111">10</text>
<text transform="translate(446.82,666.95) scale(0.94,1)" font-size="6.9" text-anchor="middle" fill="#111">20</text>
<text transform="translate(477.38,666.95) scale(0.94,1)" font-size="6.9" text-anchor="middle" fill="#111">50</text>
<text transform="translate(500.50,666.95) scale(0.94,1)" font-size="6.9" text-anchor="middle" fill="#111">100</text>
<text x="374.70" y="675.10" font-size="7.2" font-weight="bold" text-anchor="start" fill="#111" textLength="97.00" lengthAdjust="spacingAndGlyphs" >NUMBER OF CYCLES AT 60Hz</text>
<text transform="translate(329.10,652.40) rotate(-90)" font-size="7.2" font-weight="bold" fill="#111" textLength="105.80" lengthAdjust="spacingAndGlyphs">FORWARD SURGE CURRENT (A)</text>
</g>
</svg>
</body>
</html>
